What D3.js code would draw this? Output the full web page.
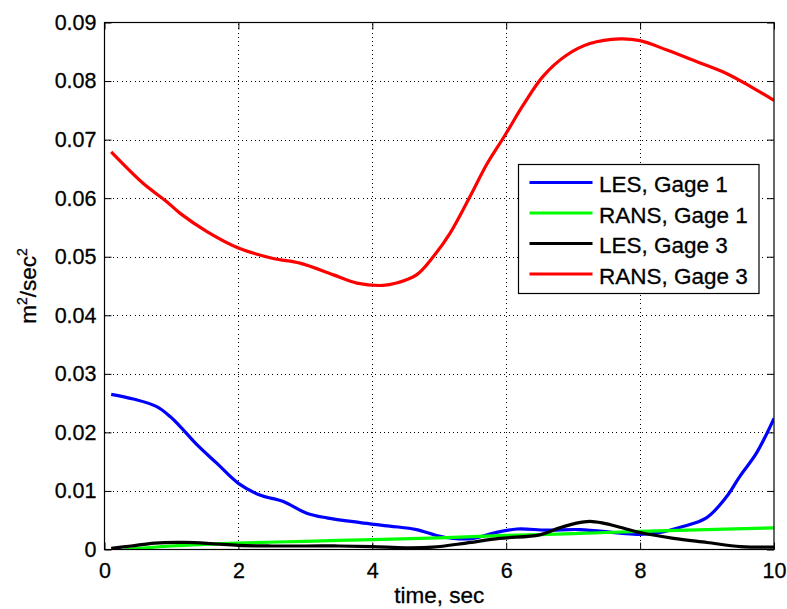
<!DOCTYPE html>
<html>
<head>
<meta charset="utf-8">
<script src="https://cdn.jsdelivr.net/npm/d3@7"></script>
<style>
  html, body { margin: 0; padding: 0; background: #fff; }
  svg { display: block; }
  text { font-family: "Liberation Sans", Arial, Helvetica, sans-serif; fill: #000; }
</style>
</head>
<body>
<svg id="chart" width="787" height="609"></svg>
<script>
// Turbulent kinetic energy time histories at two gages, LES vs RANS
const xTicks = [0, 2, 4, 6, 8, 10];
const yTicks = [0, 0.01, 0.02, 0.03, 0.04, 0.05, 0.06, 0.07, 0.08, 0.09];
const yTickLabels = ["0", "0.01", "0.02", "0.03", "0.04", "0.05", "0.06", "0.07", "0.08", "0.09"];

const seriesNames = ["LES, Gage 1", "RANS, Gage 1", "LES, Gage 3", "RANS, Gage 3"];
const seriesColors = ["#0000ff", "#00ff00", "#000000", "#ff0000"];

const lesGage1Time = [0.1, 0.43, 0.78, 0.98, 1.18, 1.38, 1.68, 2.0, 2.32, 2.67, 3.02, 3.32, 3.82, 4.26, 4.66, 4.96, 5.21, 5.51, 5.81, 6.16, 6.6, 7.1, 7.7, 8.0, 8.3, 8.6, 8.99, 9.29, 9.49, 9.74, 10.0];
const lesGage1Value = [0.0265, 0.0257, 0.0244, 0.0227, 0.0204, 0.0179, 0.0147, 0.0113, 0.0093, 0.0082, 0.0062, 0.0054, 0.0046, 0.0040, 0.0034, 0.0024, 0.0019, 0.0019, 0.0028, 0.0035, 0.0033, 0.0034, 0.0028, 0.0026, 0.0029, 0.0038, 0.0054, 0.0090, 0.0125, 0.0165, 0.0224];

const ransGage1Time = [0.3, 1, 2, 3, 4, 5, 6, 7, 8, 9, 10];
const ransGage1Value = [0.0, 0.0006, 0.0011, 0.0014, 0.0017, 0.0020, 0.0024, 0.0027, 0.0031, 0.0034, 0.0037];

const lesGage3Time = [0.1, 0.4, 0.75, 1.2, 1.6, 2.0, 2.5, 3, 3.5, 4, 4.5, 4.9, 5.4, 5.9, 6.5, 6.8, 7.05, 7.25, 7.45, 7.7, 8.0, 8.5, 9.0, 9.5, 10];
const lesGage3Value = [0.0002, 0.0006, 0.0011, 0.0012, 0.0010, 0.0007, 0.0006, 0.0006, 0.0006, 0.0005, 0.0003, 0.0004, 0.0011, 0.0019, 0.0025, 0.0037, 0.0045, 0.0048, 0.0045, 0.0038, 0.0029, 0.0019, 0.0012, 0.0005, 0.0004];

const ransGage3Time = [0.1, 0.58, 0.93, 1.13, 1.53, 2.0, 2.52, 2.92, 3.42, 3.77, 4.16, 4.36, 4.66, 4.91, 5.16, 5.46, 5.71, 5.98, 6.26, 6.55, 6.9, 7.25, 7.7, 8.0, 8.4, 8.85, 9.29, 9.69, 10.0];
const ransGage3Value = [0.0679, 0.0625, 0.0594, 0.0574, 0.0543, 0.0515, 0.0497, 0.0489, 0.0469, 0.0455, 0.0451, 0.0455, 0.0469, 0.0500, 0.0540, 0.0603, 0.0658, 0.0707, 0.0760, 0.0808, 0.0844, 0.0864, 0.0872, 0.0869, 0.0853, 0.0833, 0.0813, 0.0788, 0.0767];

const seriesTimes = [lesGage1Time, ransGage1Time, lesGage3Time, ransGage3Time];
const seriesValues = [lesGage1Value, ransGage1Value, lesGage3Value, ransGage3Value];

const margin = { left: 104.5, right: 13, top: 22.5, bottom: 59.5 };
const W = 787, H = 609;
const svg = d3.select("#chart");

const x = d3.scaleLinear().domain([0, 10]).range([margin.left, W - margin.right]);
const y = d3.scaleLinear().domain([0, 0.09]).range([H - margin.bottom, margin.top]);

const x0 = x.range()[0], x1 = x.range()[1];
const y0 = y.range()[0], y1 = y.range()[1];

// dotted grid
const grid = svg.append("g").attr("stroke", "#000").attr("stroke-width", 1)
  .attr("stroke-dasharray", "1,3.3").attr("shape-rendering", "crispEdges");
grid.selectAll("line.gx").data(xTicks.slice(1, -1)).join("line")
  .attr("x1", d => Math.round(x(d)) + 0.5).attr("x2", d => Math.round(x(d)) + 0.5)
  .attr("y1", y0).attr("y2", y1);
grid.selectAll("line.gy").data(yTicks.slice(1, -1)).join("line")
  .attr("y1", d => Math.round(y(d)) + 0.5).attr("y2", d => Math.round(y(d)) + 0.5)
  .attr("x1", x0).attr("x2", x1);

// axes with inward ticks on all four sides
const tickLen = 7;
const fmtY = d => yTickLabels[yTicks.indexOf(d)];
const axisBottom = d3.axisBottom(x).tickValues(xTicks).tickSizeInner(-tickLen).tickSizeOuter(0).tickPadding(13).tickFormat(d3.format("d"));
const axisTop = d3.axisTop(x).tickValues(xTicks).tickSizeInner(-tickLen).tickSizeOuter(0).tickFormat("");
const axisLeft = d3.axisLeft(y).tickValues(yTicks).tickSizeInner(-tickLen).tickSizeOuter(0).tickPadding(8).tickFormat(fmtY);
const axisRight = d3.axisRight(y).tickValues(yTicks).tickSizeInner(-tickLen).tickSizeOuter(0).tickFormat("");

function styleAxis(g) {
  g.select(".domain").remove();
  g.selectAll("line").attr("stroke", "#000").attr("stroke-width", 1);
  g.selectAll("text").attr("font-size", 21.5).attr("fill", "#000")
    .attr("stroke", "#000").attr("stroke-width", 0.3)
    .attr("font-family", "'Liberation Sans', Arial, sans-serif");
}
svg.append("g").attr("transform", `translate(0,${y0})`).call(axisBottom).call(styleAxis);
svg.append("g").attr("transform", `translate(0,${y1})`).call(axisTop).call(styleAxis);
svg.append("g").attr("transform", `translate(${x0},0)`).call(axisLeft).call(styleAxis);
svg.append("g").attr("transform", `translate(${x1},0)`).call(axisRight).call(styleAxis);

// clip for the data lines
svg.append("clipPath").attr("id", "plotClip").append("rect")
  .attr("x", x0).attr("y", y1).attr("width", x1 - x0).attr("height", y0 - y1);

const line = d3.line().x(d => x(d[0])).y(d => y(d[1])).curve(d3.curveCatmullRom.alpha(0.5));
const lines = svg.append("g").attr("clip-path", "url(#plotClip)");
seriesNames.forEach((name, i) => {
  const pts = seriesTimes[i].map((t, k) => [t, seriesValues[i][k]]);
  lines.append("path").datum(pts)
    .attr("d", line)
    .attr("fill", "none")
    .attr("stroke", seriesColors[i])
    .attr("stroke-width", 3.2)
    .attr("stroke-linejoin", "round");
});

// plot frame
svg.append("rect").attr("x", x0).attr("y", y1).attr("width", x1 - x0).attr("height", y0 - y1)
  .attr("fill", "none").attr("stroke", "#000").attr("stroke-width", 1.2);

// axis titles
svg.append("text").attr("x", (x0 + x1) / 2).attr("y", 603)
  .attr("text-anchor", "middle").attr("font-size", 22.5)
  .attr("stroke", "#000").attr("stroke-width", 0.3).text("time, sec");

const yl = svg.append("text")
  .attr("transform", `translate(36,${(y0 + y1) / 2}) rotate(-90)`)
  .attr("text-anchor", "middle").attr("font-size", 22.5)
  .attr("stroke", "#000").attr("stroke-width", 0.3);
yl.append("tspan").text("m");
yl.append("tspan").attr("font-size", 14).attr("dy", -9).text("2");
yl.append("tspan").attr("dy", 9).text("/sec");
yl.append("tspan").attr("font-size", 14).attr("dy", -9).text("2");

// legend
const legend = svg.append("g");
const lgX = 518.5, lgY = 164.5, lgW = 240.5, lgH = 129;
legend.append("rect").attr("x", lgX).attr("y", lgY).attr("width", lgW).attr("height", lgH)
  .attr("fill", "#fff").attr("stroke", "#000").attr("stroke-width", 1.2);
const rowY = d3.scaleLinear().domain([0, 3]).range([182.5, 274]);
seriesNames.forEach((name, i) => {
  legend.append("line").attr("x1", 529.5).attr("x2", 592.5)
    .attr("y1", rowY(i)).attr("y2", rowY(i))
    .attr("stroke", seriesColors[i]).attr("stroke-width", 3.2);
  legend.append("text").attr("x", 599).attr("y", rowY(i) + 9.5)
    .attr("font-size", 22.5).attr("stroke", "#000").attr("stroke-width", 0.3).text(name);
});
</script>
</body>
</html>
